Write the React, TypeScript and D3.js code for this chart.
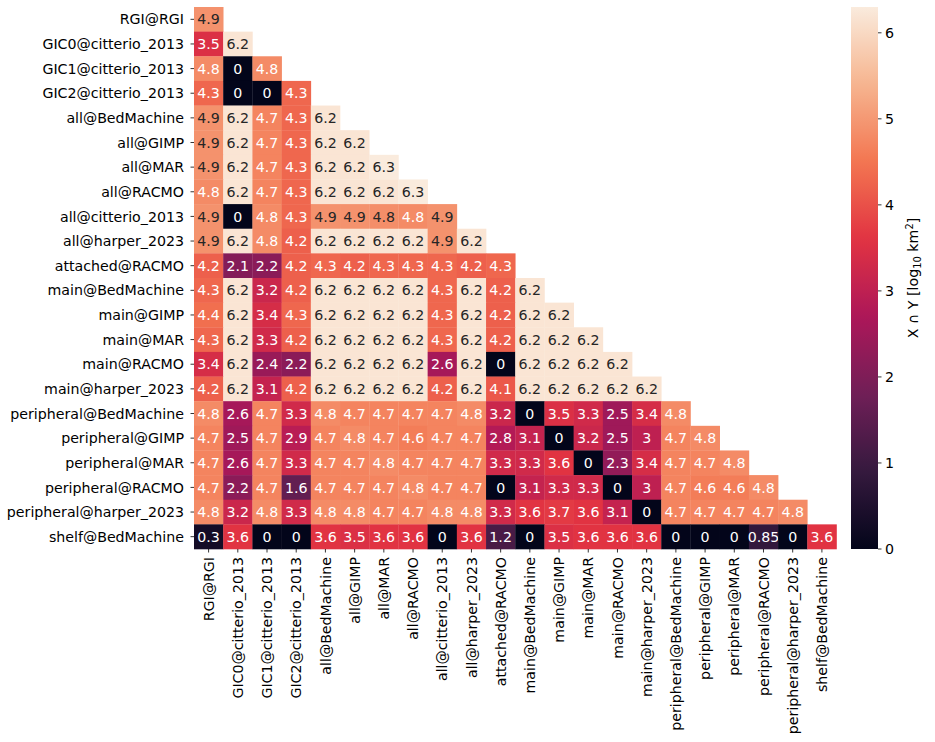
import React from "react";
import * as d3 from "d3";

const labels = [
  "RGI@RGI",
  "GIC0@citterio_2013",
  "GIC1@citterio_2013",
  "GIC2@citterio_2013",
  "all@BedMachine",
  "all@GIMP",
  "all@MAR",
  "all@RACMO",
  "all@citterio_2013",
  "all@harper_2023",
  "attached@RACMO",
  "main@BedMachine",
  "main@GIMP",
  "main@MAR",
  "main@RACMO",
  "main@harper_2023",
  "peripheral@BedMachine",
  "peripheral@GIMP",
  "peripheral@MAR",
  "peripheral@RACMO",
  "peripheral@harper_2023",
  "shelf@BedMachine",
];

// lower-triangular matrix (row i has i+1 values)
const row0 = [4.9];
const row1 = [3.5, 6.2];
const row2 = [4.8, 0, 4.8];
const row3 = [4.3, 0, 0, 4.3];
const row4 = [4.9, 6.2, 4.7, 4.3, 6.2];
const row5 = [4.9, 6.2, 4.7, 4.3, 6.2, 6.2];
const row6 = [4.9, 6.2, 4.7, 4.3, 6.2, 6.2, 6.3];
const row7 = [4.8, 6.2, 4.7, 4.3, 6.2, 6.2, 6.2, 6.3];
const row8 = [4.9, 0, 4.8, 4.3, 4.9, 4.9, 4.85, 4.8, 4.9];
const row9 = [4.9, 6.2, 4.8, 4.2, 6.2, 6.2, 6.2, 6.2, 4.9, 6.2];
const row10 = [4.2, 2.1, 2.2, 4.2, 4.3, 4.2, 4.3, 4.3, 4.3, 4.2, 4.3];
const row11 = [4.3, 6.2, 3.2, 4.2, 6.2, 6.2, 6.2, 6.2, 4.3, 6.2, 4.2, 6.2];
const row12 = [4.4, 6.2, 3.4, 4.3, 6.2, 6.2, 6.2, 6.2, 4.3, 6.2, 4.2, 6.2, 6.2];
const row13 = [4.3, 6.2, 3.3, 4.2, 6.2, 6.2, 6.2, 6.2, 4.3, 6.2, 4.2, 6.2, 6.2, 6.2];
const row14 = [3.4, 6.2, 2.4, 2.2, 6.2, 6.2, 6.2, 6.2, 2.6, 6.2, 0, 6.2, 6.2, 6.2, 6.2];
const row15 = [4.2, 6.2, 3.1, 4.2, 6.2, 6.2, 6.2, 6.2, 4.2, 6.2, 4.1, 6.2, 6.2, 6.2, 6.2, 6.2];
const row16 = [4.8, 2.6, 4.7, 3.3, 4.8, 4.7, 4.7, 4.7, 4.7, 4.8, 3.2, 0, 3.5, 3.3, 2.5, 3.4, 4.8];
const row17 = [4.7, 2.5, 4.7, 2.9, 4.7, 4.8, 4.7, 4.6, 4.7, 4.7, 2.8, 3.1, 0, 3.2, 2.5, 3, 4.7, 4.8];
const row18 = [4.7, 2.6, 4.7, 3.3, 4.7, 4.7, 4.8, 4.7, 4.7, 4.7, 3.3, 3.3, 3.6, 0, 2.3, 3.4, 4.7, 4.7, 4.8];
const row19 = [4.7, 2.2, 4.7, 1.6, 4.7, 4.7, 4.7, 4.8, 4.7, 4.7, 0, 3.1, 3.3, 3.3, 0, 3, 4.7, 4.6, 4.6, 4.8];
const row20 = [4.8, 3.2, 4.8, 3.3, 4.8, 4.8, 4.7, 4.7, 4.8, 4.8, 3.3, 3.6, 3.7, 3.6, 3.1, 0, 4.7, 4.7, 4.7, 4.7, 4.8];
const row21 = [0.3, 3.6, 0, 0, 3.6, 3.5, 3.6, 3.6, 0, 3.6, 1.2, 0, 3.5, 3.6, 3.6, 3.6, 0, 0, 0, 0.85, 0, 3.6];

const rows = [row0, row1, row2, row3, row4, row5, row6, row7, row8, row9, row10, row11, row12, row13, row14, row15, row16, row17, row18, row19, row20, row21];

const colorbarTicks = [0, 1, 2, 3, 4, 5, 6];

// seaborn "rocket" approximated
const rocketStops = ["#03051a", "#35193e", "#701f57", "#ad1759", "#e13342", "#f37651", "#f6b48f", "#faebdd"];
const rocket = d3.piecewise(d3.interpolateRgb, rocketStops);

function relLum(c: string) {
  const rgb = d3.rgb(c);
  const f = (v: number) => {
    const x = v / 255;
    return x <= 0.03928 ? x / 12.92 : Math.pow((x + 0.055) / 1.055, 2.4);
  };
  return 0.2126 * f(rgb.r) + 0.7152 * f(rgb.g) + 0.0722 * f(rgb.b);
}

function fmt(v: number) {
  return String(+d3.format(".2g")(v));
}

export default function App() {
  const W = 935, H = 742;
  const left = 194, right = 836.5, top = 7, bottom = 549;
  const font = "DejaVu Sans, sans-serif";
  const fs = 14.2;

  const x = d3.scaleBand<string>().domain(labels).range([left, right]);
  const y = d3.scaleBand<string>().domain(labels).range([top, bottom]);
  const vmax = d3.max(rows.flat()) as number;
  const color = d3.scaleSequential(rocket).domain([0, vmax]);

  const cbX = 851, cbW = 27;
  const cbY = d3.scaleLinear().domain([0, vmax]).range([bottom, top]);
  const gradStops = d3.range(0, 1.0001, 0.02);

  return (
    <svg width={W} height={H} style={{ display: "block", position: "absolute", left: 0, top: 0 }} fontFamily={font}>
      <rect x={0} y={0} width={W} height={H} fill="white" />
      <defs>
        <linearGradient id="cb" x1="0" y1="1" x2="0" y2="0">
          {gradStops.map((t) => (
            <stop key={t} offset={t} stopColor={rocket(t)} />
          ))}
        </linearGradient>
      </defs>
      {rows.map((r, i) =>
        r.map((v, j) => {
          const c = color(v) as string;
          const tc = relLum(c) > 0.392 ? "#262626" : "#ffffff";
          const cx = (x(labels[j]) as number);
          const cy = (y(labels[i]) as number);
          return (
            <g key={`${i}-${j}`}>
              <rect x={cx} y={cy} width={x.bandwidth() + 0.3} height={y.bandwidth() + 0.3} fill={c} />
              <text x={cx + x.bandwidth() / 2} y={cy + y.bandwidth() / 2} dy="0.36em" textAnchor="middle" fontSize={fs} fill={tc}>
                {fmt(v)}
              </text>
            </g>
          );
        })
      )}
      {labels.map((l) => {
        const cy = (y(l) as number) + y.bandwidth() / 2;
        return (
          <g key={"y" + l}>
            <line x1={left - 3.5} x2={left} y1={cy} y2={cy} stroke="#000" strokeWidth={0.8} />
            <text x={left - 10} y={cy} dy="0.36em" textAnchor="end" fontSize={fs} fill="#000">{l}</text>
          </g>
        );
      })}
      {labels.map((l) => {
        const cx = (x(l) as number) + x.bandwidth() / 2;
        return (
          <g key={"x" + l}>
            <line x1={cx} x2={cx} y1={bottom} y2={bottom + 3.5} stroke="#000" strokeWidth={0.8} />
            <text transform={`translate(${cx},${bottom + 8}) rotate(-90)`} dy="0.36em" textAnchor="end" fontSize={fs} fill="#000">{l}</text>
          </g>
        );
      })}
      <rect x={cbX} y={top} width={cbW} height={bottom - top} fill="url(#cb)" />
      {colorbarTicks.map((t) => (
        <g key={"c" + t}>
          <line x1={cbX + cbW} x2={cbX + cbW + 3.5} y1={cbY(t)} y2={cbY(t)} stroke="#000" strokeWidth={0.8} />
          <text x={cbX + cbW + 7} y={cbY(t)} dy="0.36em" fontSize={fs} fill="#000">{t}</text>
        </g>
      ))}
      <text transform={`translate(918,${(top + bottom) / 2}) rotate(-90)`} textAnchor="middle" fontSize={fs} fill="#000">
        X ∩ Y [log
        <tspan fontSize={fs * 0.7} dy="3">10</tspan>
        <tspan dy="-3"> km</tspan>
        <tspan fontSize={fs * 0.7} dy="-5">2</tspan>
        <tspan dy="5">]</tspan>
      </text>
    </svg>
  );
}
